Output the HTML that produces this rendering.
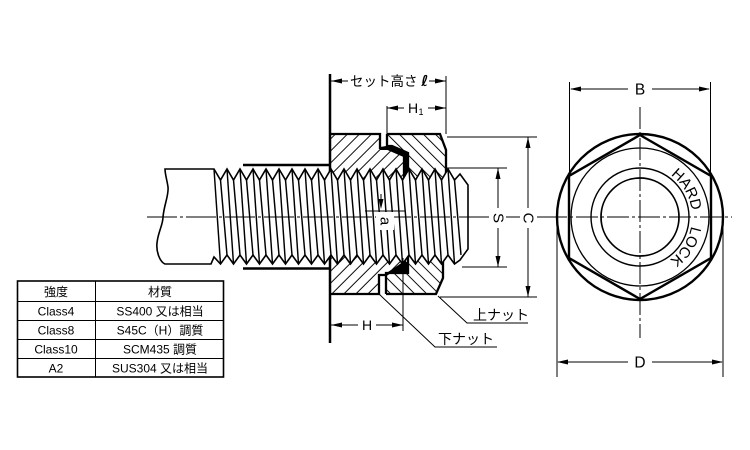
<!DOCTYPE html>
<html><head><meta charset="utf-8"><style>
html,body{margin:0;padding:0;background:#fff;}
svg{display:block;}
text{font-family:"Liberation Sans","Noto Sans CJK JP",sans-serif;fill:#000;}
</style></head><body>
<svg width="750" height="450" viewBox="0 0 750 450" xmlns="http://www.w3.org/2000/svg">
<defs>
<pattern id="hA" patternUnits="userSpaceOnUse" width="8.5" height="8.5" patternTransform="rotate(45)"><line x1="0" y1="-1" x2="0" y2="10" stroke="#000" stroke-width="1.9"/></pattern>
<pattern id="hB" patternUnits="userSpaceOnUse" width="8.5" height="8.5" patternTransform="rotate(-45)"><line x1="0" y1="-1" x2="0" y2="10" stroke="#000" stroke-width="1.9"/></pattern>
<path id="arc" d="M640,165 A52,52 0 1 1 640,269 A52,52 0 1 1 640,165"/>
</defs>
<rect width="750" height="450" fill="#fff"/>

<!-- Nut hatching -->
<polygon points="330,134 380,134 380,148 388,149 404,156 404,186 330,186" fill="url(#hA)"/>
<polygon points="387,134 440,134 446,150 446,186 408,186 408,153 392,146 387,146" fill="url(#hB)"/>
<polygon points="330,294 379,294 379,275 386,275 404,263 404,248 330,248" fill="url(#hA)"/>
<polygon points="386,294 436,294 443,278 443,248 408,248 408,273 386,273" fill="url(#hB)"/>

<!-- Nut outlines -->
<g fill="none" stroke="#000" stroke-width="2.3">
<path d="M330,134 H380 V148 L388,149 L404,156 V180"/>
<path d="M387,134 V146 L392,146 L408,153 V180"/>
<path d="M387,134 H440 L446,150 V180"/>
<path d="M330,294 H379 V275 H386 L405,262 V255"/>
<path d="M386,294 V273 H408 V256"/>
<path d="M386,294 H436 L443,278 V256"/>
</g>
<polygon points="386,146 392,146 408,153 408,176 404,176 404,157 388,150 380,150 380,147" fill="#000"/>
<polygon points="388,272 408,272 408,262 404,262" fill="#000"/>

<!-- Thick left line and plate lines -->
<path d="M330,74 V343" stroke="#000" stroke-width="2.5"/>
<path d="M243,165 H330 M243,268.5 H330" stroke="#000" stroke-width="2.6"/>

<!-- Bolt -->
<path d="M165,169 L214,169 L220.5,180 L227,169 L233.5,180 L240,169 L246.5,180 L253,169 L259.5,180 L266,169 L272.5,180 L279,169 L285.5,180 L292,169 L298.5,180 L305,169 L311.5,180 L318,169 L324.5,180 L331,169 L337.5,180 L344,169 L350.5,180 L357,169 L363.5,180 L370,169 L376.5,180 L383,169 L389.5,180 L396,169 L402.5,180 L409,169 L415.5,180 L422,169 L428.5,180 L435,169 L441.5,180 L448,169 L454.5,180 L460,174 L468,185 L468,249 L460,260 L454.5,264 L448,255 L441.5,264 L435,255 L428.5,264 L422,255 L415.5,264 L409,255 L402.5,264 L396,255 L389.5,264 L383,255 L376.5,264 L370,255 L363.5,264 L357,255 L350.5,264 L344,255 L337.5,264 L331,255 L324.5,264 L318,255 L311.5,264 L305,255 L298.5,264 L292,255 L285.5,264 L279,255 L272.5,264 L266,255 L259.5,264 L253,255 L246.5,264 L240,255 L233.5,264 L227,255 L220.5,264 L214,257 L211,264 L165,264 C160,262 156,252 157,243 C158,232 163,225 163,217 C164,205 169,195 168,187 C167,180 165,174 165,169 Z" fill="#fff" stroke="#000" stroke-width="1.6" stroke-linejoin="miter"/>
<path d="M214,169L220.5,264 M227,169L233.5,264 M240,169L246.5,264 M253,169L259.5,264 M266,169L272.5,264 M279,169L285.5,264 M292,169L298.5,264 M305,169L311.5,264 M318,169L324.5,264 M331,169L337.5,264 M344,169L350.5,264 M357,169L363.5,264 M370,169L376.5,264 M383,169L389.5,264 M396,169L402.5,264 M409,169L415.5,264 M422,169L428.5,264 M435,169L441.5,264 M448,169L454.5,264
M220.5,180L227,255 M233.5,180L240,255 M246.5,180L253,255 M259.5,180L266,255 M272.5,180L279,255 M285.5,180L292,255 M298.5,180L305,255 M311.5,180L318,255 M324.5,180L331,255 M337.5,180L344,255 M350.5,180L357,255 M363.5,180L370,255 M376.5,180L383,255 M389.5,180L396,255 M402.5,180L409,255 M415.5,180L422,255 M428.5,180L435,255 M441.5,180L448,255 M454.5,180L461,255" stroke="#000" stroke-width="1.45" fill="none"/>

<!-- Center line -->
<path d="M147,217 H548" stroke="#000" stroke-width="1" stroke-dasharray="30 3 3 3"/>

<!-- Dimensions -->
<g stroke="#000" stroke-width="1" fill="none">
<path d="M446,76 V134"/>
<path d="M331,81 H348 M429,81 H446"/>
<path d="M387,106 V134"/>
<path d="M387,108 H404 M428,108 H446"/>
<path d="M331,325 H358 M376,325 H403"/>
<path d="M403,258 V331"/>
<path d="M447,168 H507 M462,267 H507"/>
<path d="M498,168 V208 M498,228 V267"/>
<path d="M447,137 H537 M440,297 H537"/>
<path d="M528,137 V208 M528,228 V297"/>
<path d="M381,194 V203"/>
<path d="M365,211 H405"/>
<path d="M438,296 L467,323 H528"/>
<path d="M379,294 L435,347 H497"/>
</g>
<g fill="#000">
<polygon points="331,81 342,78.5 342,83.5"/>
<polygon points="446,81 435,78.5 435,83.5"/>
<polygon points="387,108 398,105.5 398,110.5"/>
<polygon points="446,108 435,105.5 435,110.5"/>
<polygon points="331,325 342,322.5 342,327.5"/>
<polygon points="403,325 392,322.5 392,327.5"/>
<polygon points="498,168 495.5,179 500.5,179"/>
<polygon points="498,267 495.5,256 500.5,256"/>
<polygon points="528,137 525.5,148 530.5,148"/>
<polygon points="528,297 525.5,286 530.5,286"/>
<polygon points="381,209 378.5,199 383.5,199"/>
</g>

<text x="350" y="86" font-size="13.5">セット高さ <tspan font-family="DejaVu Sans" font-size="15" font-weight="bold" font-style="italic">ℓ</tspan></text>
<text x="413" y="113" font-size="14" text-anchor="middle">H</text>
<text x="421" y="115" font-size="9" text-anchor="middle">1</text>
<text x="367" y="330" font-size="14" text-anchor="middle">H</text>

<rect x="376" y="212" width="18" height="18" fill="#fff"/>
<text transform="translate(385,221) rotate(90)" font-size="15" text-anchor="middle" dominant-baseline="central">a</text>
<rect x="490" y="209" width="16" height="19" fill="#fff"/>
<text transform="translate(498,218) rotate(90)" font-size="15" text-anchor="middle" dominant-baseline="central">S</text>
<rect x="520" y="209" width="16" height="19" fill="#fff"/>
<text transform="translate(528,218) rotate(90)" font-size="15" text-anchor="middle" dominant-baseline="central">C</text>

<text x="473" y="320" font-size="14">上ナット</text>
<text x="438" y="344" font-size="14">下ナット</text>

<!-- Right view -->
<g fill="none" stroke="#000">
<circle cx="640" cy="217" r="83" stroke-width="2.4"/>
<polygon points="640,135 711,176 711,258 640,299 569,258 569,176" stroke-width="2.4"/>
<circle cx="640" cy="217" r="69" stroke-width="1.3"/>
<circle cx="640" cy="217" r="49" stroke-width="1.4"/>
<circle cx="640" cy="217" r="39" stroke-width="1.7"/>
<path d="M569.5,82 V176 M710.5,82 V176" stroke-width="1"/>
<path d="M571,89 H628 M652,89 H709" stroke-width="1"/>
<path d="M557,217 V377 M723,217 V377" stroke-width="1"/>
<path d="M558,362 H628 M652,362 H722" stroke-width="1"/>
<path d="M545,217 H732" stroke-width="1" stroke-dasharray="22 3 3 3"/>
<path d="M640,107 V338" stroke-width="1" stroke-dasharray="22 3 3 3"/>
</g>
<g fill="#000">
<polygon points="570,89 581,86.5 581,91.5"/>
<polygon points="710,89 699,86.5 699,91.5"/>
<polygon points="557,362 568,359.5 568,364.5"/>
<polygon points="723,362 712,359.5 712,364.5"/>
</g>
<text x="640" y="94.5" font-size="15.5" text-anchor="middle">B</text>
<text x="640" y="367.5" font-size="15.5" text-anchor="middle">D</text>
<text font-size="15" text-anchor="middle"><textPath href="#arc" startOffset="53.9">HARD</textPath></text>
<text font-size="15" text-anchor="middle"><textPath href="#arc" startOffset="111.2">LOCK</textPath></text>

<!-- Table -->
<g fill="none" stroke="#000">
<rect x="17.5" y="281" width="206" height="96" stroke-width="1.6"/>
<path d="M95.5,281 V377 M17.5,301.5 H223.5 M17.5,320.5 H223.5 M17.5,339.5 H223.5 M17.5,358.5 H223.5" stroke-width="1"/>
</g>
<g font-size="12" text-anchor="middle">
<text x="56" y="296">強度</text>
<text x="160" y="296">材質</text>
<text x="56" y="315.5">Class4</text>
<text x="160" y="315.5">SS400 又は相当</text>
<text x="56" y="334.5">Class8</text>
<text x="160" y="334.5">S45C（H）調質</text>
<text x="56" y="353.5">Class10</text>
<text x="160" y="353.5">SCM435 調質</text>
<text x="56" y="372.5">A2</text>
<text x="160" y="372.5">SUS304 又は相当</text>
</g>
</svg>
</body></html>
